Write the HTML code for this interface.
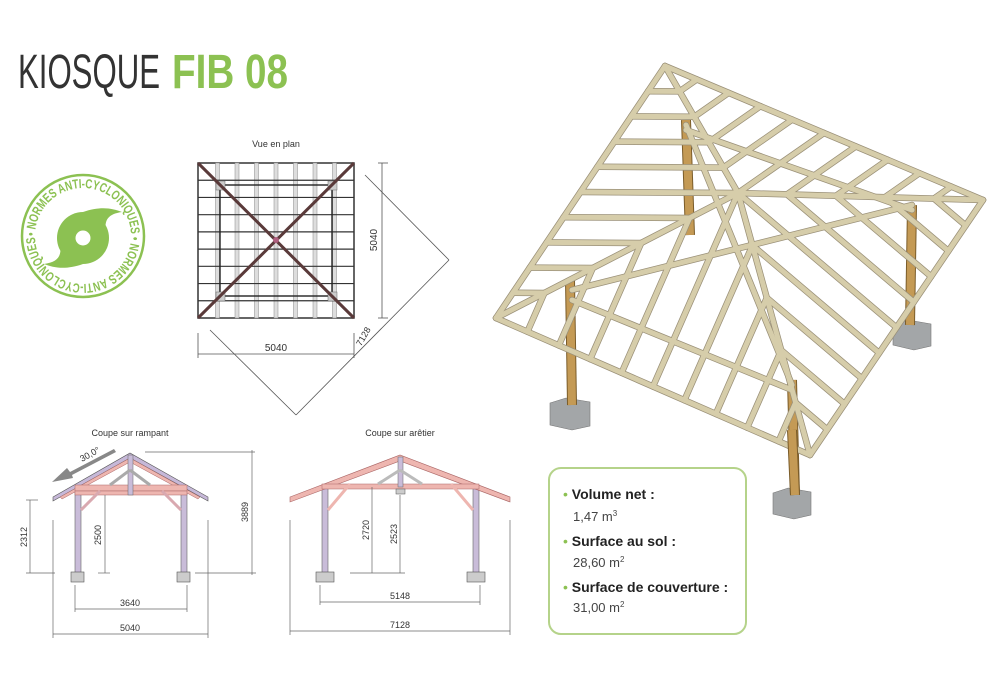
<!DOCTYPE html>
<html><head><meta charset="utf-8"><style>
html,body{margin:0;padding:0;background:#fff;}
svg{display:block;}
text{font-family:"Liberation Sans",sans-serif;}
</style></head><body>
<svg id="s" width="1000" height="700" viewBox="0 0 1000 700" xmlns="http://www.w3.org/2000/svg">
<!-- Title -->
<text x="18" y="88" font-size="48" fill="#333" textLength="142" lengthAdjust="spacingAndGlyphs" style="font-weight:300">KIOSQUE</text>
<text x="172" y="88" font-size="48" fill="#8cc152" font-weight="bold" textLength="116" lengthAdjust="spacingAndGlyphs">FIB 08</text>

<!-- Badge -->
<g>
<circle cx="83" cy="236" r="61" fill="none" stroke="#8cc152" stroke-width="2.5"/>
<defs><path id="bp" d="M83,236 m-48,0 a48,48 0 1,1 96,0 a48,48 0 1,1 -96,0"/></defs>
<text font-size="13" font-weight="bold" fill="#8cc152"><textPath href="#bp" startOffset="0" textLength="300" lengthAdjust="spacingAndGlyphs">• NORMES ANTI-CYCLONIQUES • NORMES ANTI-CYCLONIQUES</textPath></text>
<circle cx="83" cy="238" r="26" fill="#8cc152"/>
<path d="M83,212 C100,206 112,208 122,212 C108,214 104,220 106,232 Z" fill="#8cc152"/>
<path d="M83,264 C66,270 54,268 44,264 C58,262 62,256 60,244 Z" fill="#8cc152"/>
<circle cx="83" cy="238" r="7.5" fill="#fff"/>
</g>

<!-- Plan view -->
<text x="276" y="147" font-size="9" fill="#333" text-anchor="middle">Vue en plan</text>
<g id="plan"></g>
<g stroke="#555" stroke-width="0.8" fill="none">
<line x1="382" y1="163" x2="382" y2="318"/><line x1="378" y1="163" x2="388" y2="163"/><line x1="378" y1="318" x2="388" y2="318"/>
<line x1="198" y1="354" x2="354" y2="354"/><line x1="198" y1="333" x2="198" y2="358"/><line x1="354" y1="333" x2="354" y2="358"/>
<line x1="365" y1="175" x2="449" y2="260"/><line x1="449" y1="260" x2="296" y2="415"/><line x1="210" y1="330" x2="296" y2="415"/>
</g>
<text x="276" y="351" font-size="10" fill="#333" text-anchor="middle">5040</text>
<text transform="translate(377,240) rotate(-90)" font-size="10" fill="#333" text-anchor="middle">5040</text>
<text transform="translate(366,338) rotate(-60)" font-size="9" fill="#333" text-anchor="middle">7128</text>

<!-- Section 1 -->
<text x="130" y="436" font-size="9" fill="#333" text-anchor="middle">Coupe sur rampant</text>
<g>
<rect x="75" y="488" width="6" height="85" fill="#c9bcd9" stroke="#666" stroke-width="0.6"/>
<rect x="181" y="488" width="6" height="85" fill="#c9bcd9" stroke="#666" stroke-width="0.6"/>
<rect x="71" y="572" width="13" height="10" fill="#ccc" stroke="#555" stroke-width="0.6"/>
<rect x="177" y="572" width="13" height="10" fill="#ccc" stroke="#555" stroke-width="0.6"/>
<polygon points="53,497 130,453 208,497 208,501 130,458 53,501" fill="#c6b8d8" stroke="#555" stroke-width="0.6"/>
<polygon points="60,497 130,458 200,497 198,499 130,462 62,499" fill="#eeb6b0" stroke="#a66" stroke-width="0.5"/>
<rect x="75" y="485" width="112" height="6" fill="#eeb6b0" stroke="#a66" stroke-width="0.5"/>
<rect x="75" y="491" width="112" height="4" fill="#eeb6b0" stroke="#a66" stroke-width="0.5"/>
<rect x="128" y="455" width="5" height="40" fill="#c9bcd9" stroke="#666" stroke-width="0.5"/>
<line x1="110" y1="485" x2="130" y2="470" stroke="#aaa" stroke-width="3"/><line x1="150" y1="485" x2="130" y2="470" stroke="#aaa" stroke-width="3"/>
<line x1="81" y1="510" x2="100" y2="491" stroke="#d9a9b0" stroke-width="3"/><line x1="181" y1="510" x2="162" y2="491" stroke="#d9a9b0" stroke-width="3"/>
</g>
<g stroke="#666" stroke-width="0.7" fill="none">
<line x1="145" y1="452" x2="255" y2="452"/><line x1="252" y1="450" x2="252" y2="575"/><line x1="195" y1="573" x2="256" y2="573"/>
<line x1="30" y1="500" x2="30" y2="573"/><line x1="26" y1="500" x2="38" y2="500"/><line x1="26" y1="573" x2="55" y2="573"/>
<line x1="105" y1="495" x2="105" y2="573"/><line x1="98" y1="573" x2="110" y2="573"/>
<line x1="75" y1="585" x2="75" y2="612"/><line x1="187" y1="585" x2="187" y2="612"/><line x1="75" y1="609" x2="187" y2="609"/>
<line x1="53" y1="520" x2="53" y2="638"/><line x1="208" y1="520" x2="208" y2="638"/><line x1="53" y1="634" x2="208" y2="634"/>
</g>
<polygon points="114,449 70,472 67,468 52,482 73,478 72,475 116,452" fill="#888"/>
<text transform="translate(82,462) rotate(-29)" font-size="9" fill="#333">30,0°</text>
<text transform="translate(248,512) rotate(-90)" font-size="9" fill="#333" text-anchor="middle">3889</text>
<text transform="translate(27,537) rotate(-90)" font-size="9" fill="#333" text-anchor="middle">2312</text>
<text transform="translate(101,535) rotate(-90)" font-size="9" fill="#333" text-anchor="middle">2500</text>
<text x="130" y="606" font-size="9" fill="#333" text-anchor="middle">3640</text>
<text x="130" y="631" font-size="9" fill="#333" text-anchor="middle">5040</text>

<!-- Section 2 -->
<text x="400" y="436" font-size="9" fill="#333" text-anchor="middle">Coupe sur arêtier</text>
<g>
<rect x="322" y="487" width="6" height="86" fill="#c9bcd9" stroke="#666" stroke-width="0.6"/>
<rect x="473" y="487" width="6" height="86" fill="#c9bcd9" stroke="#666" stroke-width="0.6"/>
<rect x="316" y="572" width="18" height="10" fill="#ccc" stroke="#555" stroke-width="0.6"/>
<rect x="467" y="572" width="18" height="10" fill="#ccc" stroke="#555" stroke-width="0.6"/>
<polygon points="290,497 400,455 510,497 510,502 400,461 290,502" fill="#eeb6b0" stroke="#a66" stroke-width="0.6"/>
<rect x="322" y="484" width="157" height="5" fill="#eeb6b0" stroke="#a66" stroke-width="0.5"/>
<rect x="398" y="457" width="5" height="30" fill="#c9bcd9" stroke="#666" stroke-width="0.5"/>
<line x1="378" y1="484" x2="400" y2="470" stroke="#bbb" stroke-width="3"/><line x1="422" y1="484" x2="400" y2="470" stroke="#bbb" stroke-width="3"/>
<line x1="328" y1="510" x2="350" y2="484" stroke="#eeb6b0" stroke-width="3"/><line x1="473" y1="510" x2="451" y2="484" stroke="#eeb6b0" stroke-width="3"/>
<rect x="396" y="489" width="9" height="5" fill="#ccc" stroke="#555" stroke-width="0.5"/>
</g>
<g stroke="#666" stroke-width="0.7" fill="none">
<line x1="372" y1="487" x2="372" y2="573"/><line x1="400" y1="495" x2="400" y2="573"/><line x1="350" y1="573" x2="405" y2="573"/>
<line x1="320" y1="585" x2="320" y2="605"/><line x1="480" y1="585" x2="480" y2="605"/><line x1="320" y1="602" x2="480" y2="602"/>
<line x1="290" y1="520" x2="290" y2="635"/><line x1="510" y1="520" x2="510" y2="635"/><line x1="290" y1="631" x2="510" y2="631"/>
</g>
<text transform="translate(369,530) rotate(-90)" font-size="9" fill="#333" text-anchor="middle">2720</text>
<text transform="translate(397,534) rotate(-90)" font-size="9" fill="#333" text-anchor="middle">2523</text>
<text x="400" y="599" font-size="9" fill="#333" text-anchor="middle">5148</text>
<text x="400" y="628" font-size="9" fill="#333" text-anchor="middle">7128</text>

<!-- 3D model -->
<g id="m3d"></g>

<!-- Info box -->
<rect x="549" y="468" width="197" height="166" rx="12" fill="#fff" stroke="#b5d38a" stroke-width="2"/>
<g font-size="14" fill="#222">
<text x="563" y="499"><tspan fill="#8cc152">•</tspan> <tspan font-weight="bold">Volume net :</tspan></text>
<text x="573" y="521" font-size="13" fill="#444">1,47 m<tspan font-size="8" dy="-5">3</tspan></text>
<text x="563" y="546"><tspan fill="#8cc152">•</tspan> <tspan font-weight="bold">Surface au sol :</tspan></text>
<text x="573" y="567" font-size="13" fill="#444">28,60 m<tspan font-size="8" dy="-5">2</tspan></text>
<text x="563" y="592"><tspan fill="#8cc152">•</tspan> <tspan font-weight="bold">Surface de couverture :</tspan></text>
<text x="573" y="612" font-size="13" fill="#444">31,00 m<tspan font-size="8" dy="-5">2</tspan></text>
</g>
</svg>
<script>
var NS="http://www.w3.org/2000/svg";
function el(p,t,a){var e=document.createElementNS(NS,t);for(var k in a)e.setAttribute(k,a[k]);p.appendChild(e);return e;}
var pl=document.getElementById("plan");
el(pl,"rect",{x:198,y:163,width:156,height:155,fill:"#fff",stroke:"#333","stroke-width":1.5});
for(var i=1;i<8;i++){var x=198+i*156/8;el(pl,"rect",{x:x-2,y:163,width:4,height:155,fill:"#ddd",stroke:"#888","stroke-width":0.5});}
for(var i=1;i<9;i++){var y=163+i*155/9;el(pl,"line",{x1:198,y1:y,x2:354,y2:y,stroke:"#333","stroke-width":1.2});}
el(pl,"rect",{x:220,y:185,width:112,height:111,fill:"none",stroke:"#222","stroke-width":1.4});
[[220,185],[332,185],[220,296],[332,296]].forEach(function(p){el(pl,"rect",{x:p[0]-4,y:p[1]-4,width:9,height:9,fill:"#ccc",stroke:"#666","stroke-width":0.5});});
el(pl,"line",{x1:198,y1:163,x2:354,y2:318,stroke:"#5a3a3a","stroke-width":3});
el(pl,"line",{x1:354,y1:163,x2:198,y2:318,stroke:"#5a3a3a","stroke-width":3});
el(pl,"circle",{cx:276,cy:240,r:3,fill:"#b06080"});
var g=document.getElementById("m3d");
function post(x1,y1,x2,y2,bx,by,bw,bh){
 if(bw) el(g,"polygon",{points:(bx)+","+(by+5)+" "+(bx+bw*0.4)+","+by+" "+(bx+bw)+","+(by+4)+" "+(bx+bw)+","+(by+bh-4)+" "+(bx+bw*0.55)+","+(by+bh)+" "+bx+","+(by+bh-5),fill:"#a3a6a8",stroke:"#777","stroke-width":0.6});
 el(g,"line",{x1:x1,y1:y1,x2:x2,y2:y2,stroke:"#7a5c2a","stroke-width":10});
 el(g,"line",{x1:x1,y1:y1,x2:x2,y2:y2,stroke:"#c49a55","stroke-width":8});
}
post(686,120,690,235,0,0,0,0);
post(570,280,572,405,550,398,40,32);
post(912,205,910,325,893,320,38,30);
post(792,380,795,495,773,488,38,31);
var T=[665,66],R=[983,200],B=[810,455],L=[496,318],A=[738,193];
function lerp(p,q,t){return [p[0]+(q[0]-p[0])*t,p[1]+(q[1]-p[1])*t];}
var bars=[];
function bar(p,q){bars.push([p,q]);}
bar([572,290],[912,205]);bar([686,125],[792,385]);bar([572,300],[792,390]);bar([686,130],[912,210]);
function face(P,Q){
 for(var k=1;k<10;k++){var t=k/10;var s=lerp(P,Q,t);var e=t<0.5?lerp(P,A,2*t):lerp(Q,A,2*(1-t));bar(s,e);}
}
face(T,L);face(L,B);face(B,R);face(R,T);
bar(T,A);bar(R,A);bar(B,A);bar(L,A);
bar(T,R);bar(R,B);bar(B,L);bar(L,T);
bars.forEach(function(b){el(g,"line",{x1:b[0][0],y1:b[0][1],x2:b[1][0],y2:b[1][1],stroke:"#9a9078","stroke-width":6.5,"stroke-linecap":"round"});});
bars.forEach(function(b){el(g,"line",{x1:b[0][0],y1:b[0][1],x2:b[1][0],y2:b[1][1],stroke:"#d6cdaa","stroke-width":5,"stroke-linecap":"round"});});
el(g,"line",{x1:792,y1:430,x2:795,y2:495,stroke:"#7a5c2a","stroke-width":10});
el(g,"line",{x1:792,y1:430,x2:795,y2:495,stroke:"#c49a55","stroke-width":8});
</script>
</body></html>
